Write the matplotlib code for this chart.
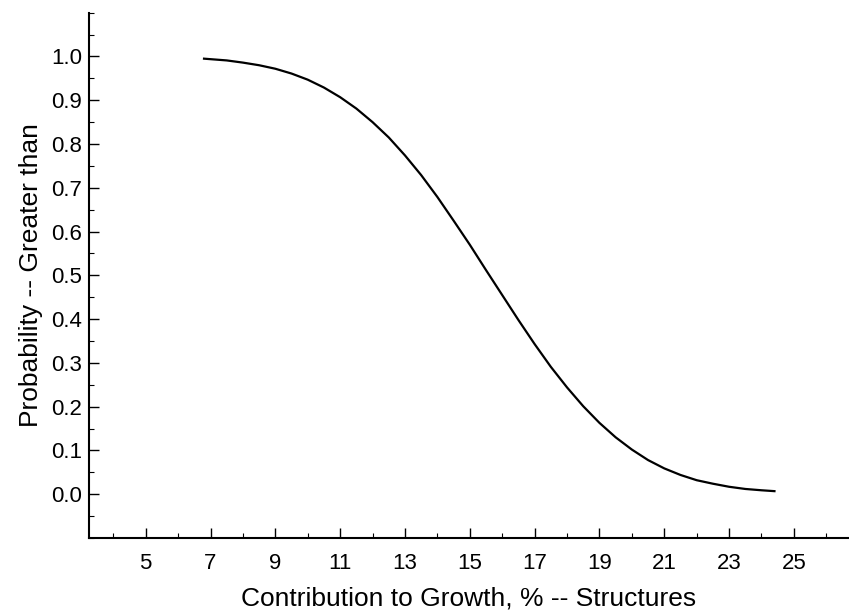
import matplotlib
matplotlib.use("Agg")
import matplotlib.pyplot as plt
from matplotlib.ticker import MultipleLocator

plt.rcParams['font.family'] = ['Liberation Sans', 'DejaVu Sans']

# Data
contribution = [6.8, 7.5, 8.0, 8.5, 9.0, 9.5, 10.0, 10.5, 11.0, 11.5, 12.0, 12.5,
                13.0, 13.5, 14.0, 14.5, 15.0, 15.5, 16.0, 16.5, 17.0, 17.5, 18.0,
                18.5, 19.0, 19.5, 20.0, 20.5, 21.0, 21.5, 22.0, 22.5, 23.0, 23.5,
                24.0, 24.4]
probability = [0.995, 0.991, 0.986, 0.980, 0.972, 0.961, 0.947, 0.929, 0.907, 0.881,
               0.850, 0.815, 0.774, 0.729, 0.679, 0.625, 0.570, 0.512, 0.455, 0.398,
               0.343, 0.291, 0.244, 0.201, 0.163, 0.130, 0.102, 0.078, 0.059, 0.044,
               0.032, 0.024, 0.017, 0.012, 0.009, 0.007]

x_ticks = [5, 7, 9, 11, 13, 15, 17, 19, 21, 23, 25]
y_ticks = [0.0, 0.1, 0.2, 0.3, 0.4, 0.5, 0.6, 0.7, 0.8, 0.9, 1.0]

fig = plt.figure(figsize=(8.49, 6.11), dpi=100)
ax = fig.add_axes([0.1048, 0.1195, 0.8952, 0.8597])

ax.plot(contribution, probability, color='black', linewidth=1.6)

ax.set_xlim(3.25, 26.7)
ax.set_ylim(-0.1, 1.1)
ax.set_xticks(x_ticks)
ax.set_xticklabels([str(v) for v in x_ticks])
ax.set_yticks(y_ticks)
ax.set_yticklabels([f"{v:.1f}" for v in y_ticks])
ax.xaxis.set_minor_locator(MultipleLocator(1))
ax.yaxis.set_minor_locator(MultipleLocator(0.05))

for s in ['top', 'right']:
    ax.spines[s].set_visible(False)
for s in ['left', 'bottom']:
    ax.spines[s].set_linewidth(1.5)

ax.tick_params(axis='both', which='major', direction='in', length=7, width=1.0,
               labelsize=16, colors='black')
ax.tick_params(axis='both', which='minor', direction='in', length=3.5, width=0.8)
ax.tick_params(axis='x', which='major', pad=11)
ax.tick_params(axis='y', which='major', pad=5)

ax.set_xlabel('Contribution to Growth, % -- Structures', fontsize=19, labelpad=9)
ax.set_ylabel('Probability -- Greater than', fontsize=19, labelpad=6)

fig.savefig('out.png', dpi=100)
